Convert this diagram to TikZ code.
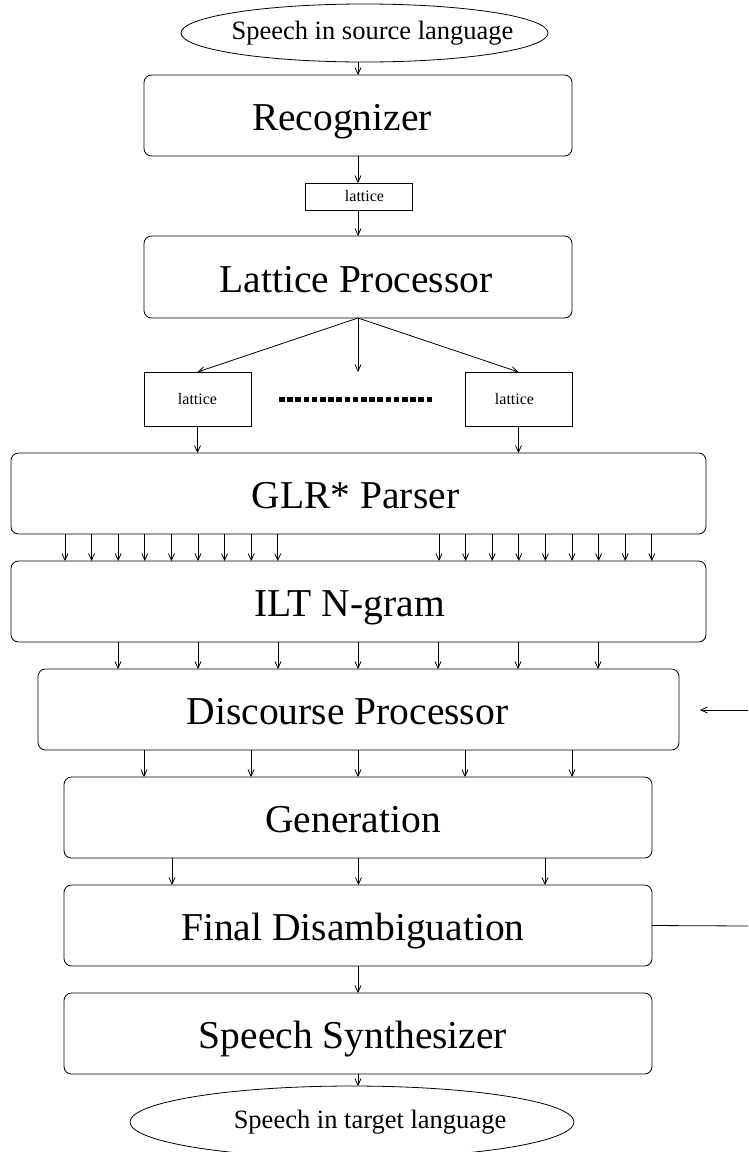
\documentclass[tikz,border=0pt]{standalone}
\usepackage{fontspec}
\setmainfont{Liberation Serif}
\usetikzlibrary{arrows.meta,shapes.geometric}
\newcommand\stagefont{\fontsize{39.5pt}{44pt}\selectfont}
\newcommand\ovalfont{\fontsize{26.5pt}{30pt}\selectfont}
\newcommand\latfont{\fontsize{16pt}{19pt}\selectfont}
\begin{document}
\begin{tikzpicture}[x=1pt,y=-1pt,line width=0.8pt,
  stage/.style={draw,rounded corners=7.5pt,inner sep=0pt,outer sep=0pt,minimum height=81pt,
    text height=36pt,text depth=5.4pt,font=\stagefont},
  latbox/.style={draw,inner sep=0pt,outer sep=0pt,minimum width=107pt,font=\latfont},
  oval/.style={draw,ellipse,inner sep=0pt,outer sep=0pt,font=\ovalfont},
  arr/.style={-{Straight Barb[length=6.5pt,width=6pt]}},
  dotrow/.style={line width=5pt,dash pattern=on 5.6pt off 2.6pt}]
\useasboundingbox (0,0) rectangle (748,1152);

% pipeline stages
\node[oval,minimum width=367pt,minimum height=58pt] (src) at (364.5,33) {\makebox[0pt]{\hspace*{16pt}Speech in source language}};
\node[stage,minimum width=428pt] (rec) at (358,115.5) {Recognizer\hspace*{32pt}};
\node[latbox,minimum height=27pt] (lat) at (358.5,196.5) {\hspace*{12pt}lattice};
\node[stage,minimum width=428pt,minimum height=82pt] (lp) at (358,277) {Lattice Processor\hspace*{4pt}};
\node[latbox,minimum height=54pt] (latl) at (197.5,399) {lattice};
\node[latbox,minimum height=54pt] (latr) at (518.5,399) {lattice\hspace*{8pt}};
\node[stage,minimum width=695pt] (glr) at (358.5,493.5) {GLR* Parser\hspace*{6pt}};
\node[stage,minimum width=695pt] (ilt) at (358.5,601.5) {ILT N-gram\hspace*{18pt}};
\node[stage,minimum width=641pt] (dis) at (358.5,709.5) {Discourse Processor\hspace*{22pt}};
\node[stage,minimum width=588pt] (gen) at (358,817.5) {Generation\hspace*{10pt}};
\node[stage,minimum width=588pt] (fin) at (358,925.5) {Final Disambiguation\hspace*{10pt}};
\node[stage,minimum width=588pt] (syn) at (358,1033.5) {Speech Synthesizer\hspace*{10pt}};
\node[oval,minimum width=444pt,minimum height=72pt] (tgt) at (352,1122) {\makebox[0pt]{\hspace*{36pt}Speech in target language}};

% single links
\draw[arr] (rec.north |- src.south) -- (rec.north);
\draw[arr] (rec.south) -- (rec.south |- lat.north);
\draw[arr] (lp.north |- lat.south) -- (lp.north);
\draw[arr] (lp.south) -- (latl.north);
\draw[arr] (lp.south) -- (lp.south |- latl.north);
\draw[arr] (lp.south) -- (latr.north);
\draw[arr] (latl.south) -- (latl.south |- glr.north);
\draw[arr] (latr.south) -- (latr.south |- glr.north);
\draw[dotrow] (279,399) -- (434,399);

% fan of parses
\foreach \i in {0,...,8} {
  \pgfmathsetmacro\xa{65+26.6*\i}
  \pgfmathsetmacro\xb{439+26.6*\i}
  \coordinate (pa\i) at (\xa,0);
  \coordinate (pb\i) at (\xb,0);
  \draw[arr] (pa\i |- glr.south) -- (pa\i |- ilt.north);
  \draw[arr] (pb\i |- glr.south) -- (pb\i |- ilt.north);
}
\foreach \i in {0,...,6} {
  \pgfmathsetmacro\xa{118+80*\i}
  \coordinate (ng\i) at (\xa,0);
  \draw[arr] (ng\i |- ilt.south) -- (ng\i |- dis.north);
}
\foreach \i in {0,...,4} {
  \pgfmathsetmacro\xa{144+107*\i}
  \coordinate (dc\i) at (\xa,0);
  \draw[arr] (dc\i |- dis.south) -- (dc\i |- gen.north);
}
\foreach \i in {0,...,2} {
  \pgfmathsetmacro\xa{172+186.5*\i}
  \coordinate (gn\i) at (\xa,0);
  \draw[arr] (gn\i |- gen.south) -- (gn\i |- fin.north);
}
\draw[arr] (fin.south) -- (syn.north);
\draw[arr] (syn.south) -- (syn.south |- tgt.north);

% context feedback
\coordinate (fbin) at (748,710);
\coordinate (fbtip) at (700,710);
\coordinate (fbout) at (748,926);
\draw[arr] (fbin) -- (fbtip);
\draw (fin.east) -- (fbout);
\end{tikzpicture}
\end{document}
